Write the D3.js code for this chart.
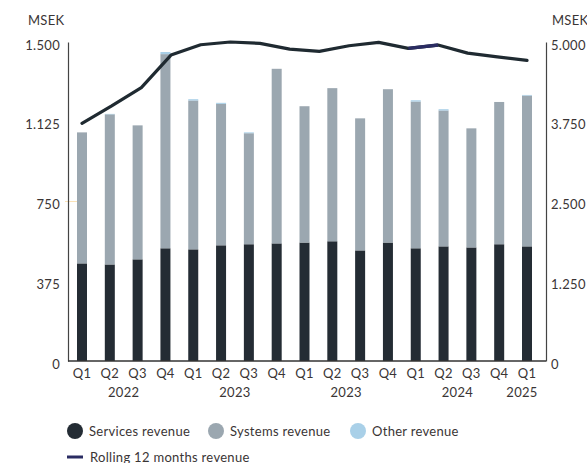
<!DOCTYPE html>
<html><head><meta charset="utf-8">
<script src="https://cdn.jsdelivr.net/npm/d3@7"></script>
<style>
body{margin:0;background:#fff;}
text{font-family:Lato,"Open Sans",sans-serif;fill:#3a3535;letter-spacing:0.3px;}
</style></head>
<body><svg id="c" width="587" height="463"></svg>
<script>
const quarters = ["Q1","Q2","Q3","Q4","Q1","Q2","Q3","Q4","Q1","Q2","Q3","Q4","Q1","Q2","Q3","Q4","Q1"];
const yearLabels = ["2022","2023","2023","2024","2025"];
const yearGroupStart = [0,4,8,12,16];
const yearGroupEnd = [3,7,11,15,16];
const services = [459,454,478,530,525,544,549,553,557,563,520,557,530,539,534,549,539];
const systems  = [616,706,630,913,700,665,522,821,641,720,621,721,690,639,560,669,709];
const other    = [0,2,0,10,6,5,4,0,0,0,0,0,6,6,0,0,3];
const rolling  = [3726,3998,4286,4795,4957,5000,4978,4889,4852,4941,4995,4900,4952,4826,4768,4711];
const highlightSeg = [11,12];
const leftTicks = [0,375,750,1125,1500];
const rightTicks = [0,1250,2500,3750,5000];

const colServices="#242c34", colSystems="#9ba7b0", colOther="#a9d0e8", colLine="#1f2a31", colNavy="#2a2c62";
const svg=d3.select("#c");
const L=68,R=546,T=42,B=361;
const x=d3.scalePoint().domain(d3.range(quarters.length)).range([82,527]);
const xl=d3.scalePoint().domain(d3.range(rolling.length)).range([82,527]);
const y=d3.scaleLinear().domain([0,1500]).range([B,T]);
const y2=d3.scaleLinear().domain([0,5000]).range([B,T]);
const loc=d3.formatLocale({decimal:",",thousands:".",grouping:[3],currency:["","kr"]});
const fmt=loc.format(",");

// bars
const data=quarters.map((q,i)=>({i,services:services[i],systems:systems[i],other:other[i]}));
const stack=d3.stack().keys(["services","systems","other"])(data);
const cols={services:colServices,systems:colSystems,other:colOther};
const bw=10;
svg.append("g").selectAll("g").data(stack).join("g").attr("fill",s=>cols[s.key])
 .selectAll("rect").data(s=>s).join("rect")
 .attr("x",d=>x(d.data.i)-bw/2).attr("width",bw)
 .attr("y",d=>y(d[1])).attr("height",d=>Math.max(0,y(d[0])-y(d[1])));

// faint marker
svg.append("line").attr("x1",L-3).attr("x2",L+9).attr("y1",y(750)).attr("y2",y(750)).attr("stroke","#fbe3b8").attr("stroke-width",1);

// axes
const ax=svg.append("g").attr("transform",`translate(${L},0)`)
 .call(d3.axisLeft(y).tickValues(leftTicks).tickFormat(fmt).tickSize(0).tickSizeOuter(0).tickPadding(8));
const ax2=svg.append("g").attr("transform",`translate(${R},0)`)
 .call(d3.axisRight(y2).tickValues(rightTicks).tickFormat(fmt).tickSize(0).tickSizeOuter(0).tickPadding(5));
[ax,ax2].forEach(a=>{a.select(".domain").attr("stroke","#444").attr("stroke-width",1.2);
 a.selectAll("text").attr("font-size",13).attr("font-family","Lato,sans-serif").attr("fill","#3a3535").attr("transform","translate(0,3)");});
svg.append("line").attr("x1",L).attr("x2",R).attr("y1",B).attr("y2",B).attr("stroke","#333").attr("stroke-width",1.5);

// line
const line=d3.line().x((d,i)=>xl(i)).y(d=>y2(d)).curve(d3.curveLinear);
svg.append("path").datum(rolling).attr("d",line).attr("fill","none").attr("stroke",colLine).attr("stroke-width",3.2).attr("stroke-linejoin","round").attr("stroke-linecap","round");
svg.append("line").attr("x1",xl(highlightSeg[0])).attr("y1",y2(rolling[highlightSeg[0]]))
 .attr("x2",xl(highlightSeg[1])).attr("y2",y2(rolling[highlightSeg[1]]))
 .attr("stroke",colNavy).attr("stroke-width",3.4).attr("stroke-linecap","butt");

// x labels
svg.append("g").selectAll("text").data(quarters).join("text")
 .attr("x",(d,i)=>x(i)).attr("y",378).attr("text-anchor","middle").attr("font-size",13).text(d=>d);
svg.append("g").selectAll("text").data(yearLabels).join("text")
 .attr("x",(d,i)=>(x(yearGroupStart[i])+x(yearGroupEnd[i]))/2 - (yearGroupStart[i]===yearGroupEnd[i]?5:0))
 .attr("y",397).attr("text-anchor","middle").attr("font-size",13).text(d=>d);

// titles
svg.append("text").attr("x",28).attr("y",25).attr("font-size",13).text("MSEK");
svg.append("text").attr("x",552).attr("y",25).attr("font-size",13).text("MSEK");

// legend
const leg=[{l:"Services revenue",c:colServices,x:75},{l:"Systems revenue",c:colSystems,x:216},{l:"Other revenue",c:colOther,x:358}];
const lg=svg.append("g");
leg.forEach(d=>{lg.append("circle").attr("cx",d.x).attr("cy",431).attr("r",8).attr("fill",d.c);
 lg.append("text").attr("x",d.x+14).attr("y",435.5).attr("font-size",13).text(d.l);});
lg.append("line").attr("x1",67).attr("x2",83).attr("y1",457).attr("y2",457).attr("stroke",colNavy).attr("stroke-width",3);
lg.append("text").attr("x",90).attr("y",461.5).attr("font-size",13).text("Rolling 12 months revenue");
</script></body></html>
